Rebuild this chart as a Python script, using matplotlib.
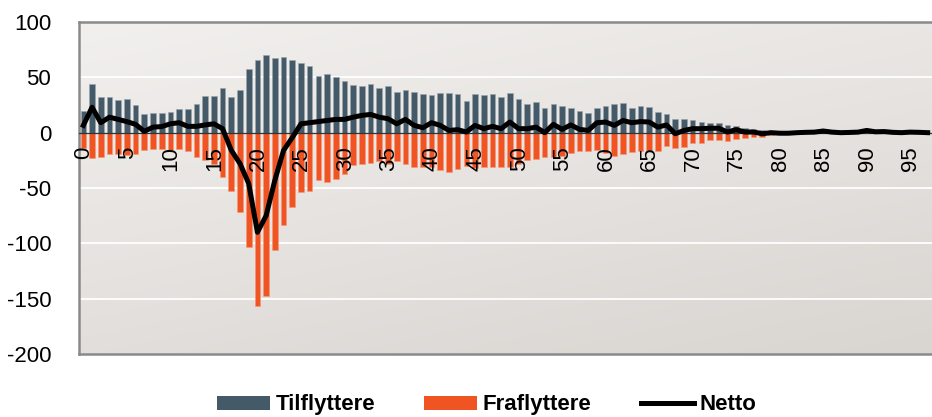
import numpy as np
import matplotlib.pyplot as plt
from matplotlib.colors import LinearSegmentedColormap
from matplotlib.lines import Line2D
from matplotlib.patches import Patch

plt.rcParams["font.family"] = ["Liberation Sans", "DejaVu Sans"]

# Age 0..97
ages = list(range(98))

tilflyttere = [
    20, 43.6, 32, 32, 29.5, 30, 25, 16.5, 18, 18,
    19, 21, 21.7, 26, 33, 33, 40.6, 32.5, 39, 57.8,
    66, 70.4, 67.4, 68.6, 65.6, 63, 60, 51, 53, 50.5,
    46.6, 42.7, 42, 43.6, 40.6, 41.8, 37, 38.8, 36.4, 35,
    34.3, 36, 36, 35, 29, 35, 33.7, 35, 32, 35.5,
    30.7, 26, 27.7, 22, 26, 24, 22, 19.5, 18, 22.6,
    23.8, 25.6, 27, 22.6, 24.4, 23, 18.7, 16.8, 12.3, 12.6,
    11.4, 10, 8.4, 8.7, 6.6, 6.3, 4.5, 3.6, 2, 1.5,
    1, 1, 0.5, 0.5, 0.3, 0.3, 0.3, 0.2, 0.2, 0.2,
    0.2, 0.1, 0.1, 0.1, 0.1, 0, 0, 0,
]

fraflyttere = [
    -13.8, -23, -22, -19.5, -19, -20, -19, -16, -14.7, -14.7,
    -16, -15, -17, -21.7, -25, -28, -39.7, -53, -72, -103,
    -157, -148, -106, -83, -67, -54, -52.6, -43, -45, -41.8,
    -37, -29, -28, -27.7, -26, -28, -26, -28, -30.7, -31,
    -31, -33.7, -35.8, -32.8, -29.8, -32, -31, -30.7, -30.7, -31,
    -28, -24.7, -23.8, -22, -22, -20.8, -18.7, -17, -16.2, -15.6,
    -18.7, -20.8, -19.3, -17.7, -16.2, -15.6, -16.2, -11.7, -13.8, -13.2,
    -9.6, -9, -6.6, -6.6, -7.8, -5.7, -4.8, -4.2, -3.6, -2,
    -1.5, -1, -1, -0.5, -0.5, -0.3, -0.3, -0.2, -0.2, -0.2,
    -0.2, -0.1, -0.1, -0.1, -0.1, 0, 0, 0,
]

netto = [
    6.6, 23, 9, 14, 12, 10, 7.5, 1.2, 5, 5.5,
    8, 9, 5.7, 5.7, 7, 8, 3.6, -16, -28, -46,
    -90, -75, -43, -16, -4.5, 8, 9, 10, 11, 12,
    12, 14, 15.6, 16.5, 14, 12.6, 8, 12, 6.6, 4.5,
    9, 6.6, 2, 2.7, 0.6, 6.6, 3.6, 5.7, 3.6, 9.6,
    3.6, 3.6, 5, 0, 7.5, 3, 7, 3, 2, 9,
    9.6, 6.6, 11, 9, 10, 9.6, 5, 7, -1, 2,
    3.6, 3.6, 4, 4, 0.6, 2.7, 0.6, 0.6, -1, 0,
    -0.5, -0.5, 0, 0.3, 0.5, 1.5, 0.5, 0, 0.2, 0.5,
    2, 0.8, 1, 0.3, 0, 0.5, 0.3, 0,
]

yticks = [-200, -150, -100, -50, 0, 50, 100]

fig = plt.figure(figsize=(9.32, 4.17), dpi=100)
ax = fig.add_axes([79 / 932, 1 - 354 / 417, 1 - 79 / 932, 332 / 417])

# gradient background
cmap = LinearSegmentedColormap.from_list("bg", ["#f2f0ee", "#d9d5d1"])
gx, gy = np.meshgrid(np.linspace(0, 1, 200), np.linspace(0, 1, 200))
ax.imshow(0.35 * gx + 0.65 * gy, cmap=cmap, extent=[0, 1, 0, 1],
          transform=ax.transAxes, aspect="auto", zorder=0)

for v in [-150, -100, -50, 50]:
    ax.axhline(v, color="white", lw=1.3, zorder=1)

ax.bar(ages, tilflyttere, width=0.65, color="#455a69",
       edgecolor="#9aa6ae", linewidth=0.4, zorder=2)
ax.bar(ages, fraflyttere, width=0.65, color="#f05423",
       edgecolor="#f59a7a", linewidth=0.4, zorder=2)
ax.axhline(0, color="#333333", lw=0.9, zorder=3)
ax.plot(ages, netto, color="black", lw=3.6, solid_joinstyle="round",
        zorder=4)

ax.set_xlim(-0.5, len(ages) - 0.5)
ax.set_ylim(-200, 100)
ax.set_yticks(yticks)
ax.set_yticklabels([str(v) for v in yticks], fontsize=16)
ax.tick_params(axis="y", length=0, pad=20)
ax.set_xticks([])

# category labels sit just under the zero line
for a in ages[::5]:
    ax.annotate(str(a), (a, 0), xytext=(0.5, -10), textcoords="offset points",
                rotation=90, ha="center", va="top", fontsize=16, zorder=5)

for side in ["left", "top", "bottom"]:
    ax.spines[side].set_color("#8a8a8a")
    ax.spines[side].set_linewidth(1.8)
ax.spines["right"].set_visible(False)

handles = [
    Patch(facecolor="#455a69", label="Tilflyttere"),
    Patch(facecolor="#f05423", label="Fraflyttere"),
    Line2D([0], [0], color="black", lw=3.6, label="Netto"),
]
fig.legend(handles=handles, loc="center", bbox_to_anchor=(0.522, 0.029),
           ncol=3, frameon=False, handlelength=2.4, handleheight=0.6,
           handletextpad=0.25, columnspacing=2.2,
           prop={"size": 16, "weight": "bold"})

fig.savefig("out.png", dpi=100)
